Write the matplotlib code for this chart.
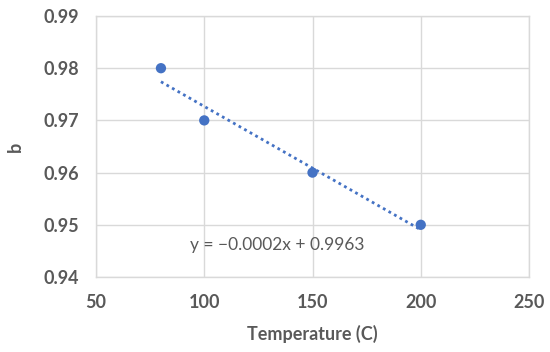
import matplotlib
matplotlib.use("Agg")
import matplotlib.pyplot as plt
import numpy as np

temps = [80, 100, 150, 200]
b_vals = [0.98, 0.97, 0.96, 0.95]
x_ticks = [50, 100, 150, 200, 250]
y_ticks = [0.94, 0.95, 0.96, 0.97, 0.98, 0.99]

plt.rcParams['font.family'] = ['Lato', 'DejaVu Sans']
fig = plt.figure(figsize=(5.5, 3.52), dpi=100)
ax = fig.add_axes([96/550, 1-277/352, (529-96)/550, (277-16)/352])

blue = '#4472C4'
grid = '#D9D9D9'
txt = '#595959'

slope, intercept = np.polyfit(temps, b_vals, 1)
xs = np.array([min(temps), max(temps)])
ax.plot(xs, slope*xs + intercept, linestyle=(0, (1, 1.3)), color=blue, lw=2, zorder=2)
ax.scatter(temps, b_vals, s=55, color=blue, zorder=3, edgecolors='none')

ax.set_xlim(50, 250)
ax.set_ylim(0.94, 0.99)
ax.set_xticks(x_ticks)
ax.set_yticks(y_ticks)
ax.set_xticklabels([str(v) for v in x_ticks])
ax.set_yticklabels([f"{v:.2f}" for v in y_ticks])
ax.grid(True, color=grid, lw=1, zorder=0)
for s in ax.spines.values():
    s.set_color(grid)
    s.set_linewidth(1)
ax.tick_params(length=0, labelsize=13, colors=txt, pad=12)
for lbl in ax.get_xticklabels() + ax.get_yticklabels():
    lbl.set_fontweight('bold')

ax.set_xlabel('Temperature (C)', fontsize=13, fontweight='bold', color=txt, labelpad=10)
ax.set_ylabel('b', fontsize=13, fontweight='bold', color=txt, labelpad=14)

ax.text(0.217, 0.123, f"y = \u22120.0002x + 0.9963", transform=ax.transAxes,
        fontsize=12.5, color=txt, ha='left', va='center')

fig.savefig('out.png', dpi=100)
